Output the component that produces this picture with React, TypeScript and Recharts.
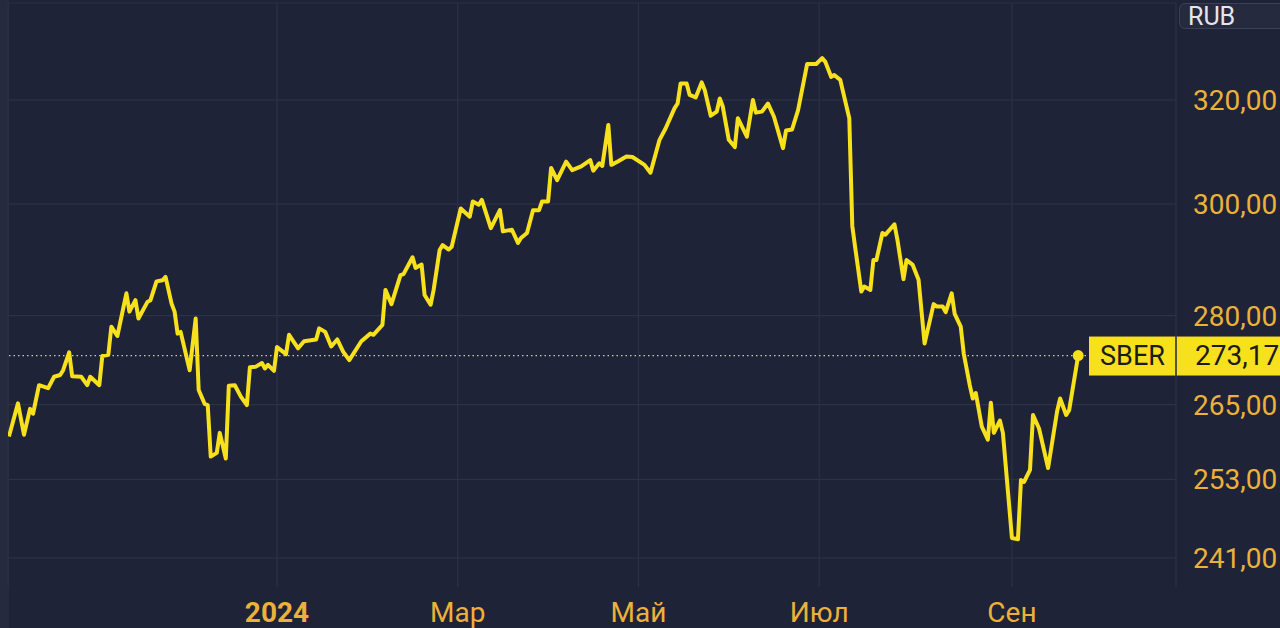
import React from 'react';
import { LineChart, Line, XAxis, YAxis, ReferenceLine } from 'recharts';

// SBER close, days counted from 2024-01-01
const dayOffsets = [
    -89, -86, -84, -82, -81, -79, -76, -74, -72, -71,
    -69, -68, -65, -63, -62, -59, -58, -56, -55, -53,
    -50, -49, -47, -46, -43, -42, -40, -38, -37, -35,
    -34, -33, -32, -29, -27, -26, -24, -23, -22, -20,
    -19, -17, -16, -14, -12, -10, -9, -7, -5, -4,
    -3, -1, 0, 3, 4, 7, 9, 13, 14, 16,
    18, 20, 22, 24, 28, 31, 32, 35, 36, 38,
    41, 42, 45, 46, 48, 49, 51, 52, 54, 55,
    57, 58, 61, 64, 65, 67, 68, 71, 74, 75,
    78, 80, 81, 83, 85, 87, 88, 90, 91, 93,
    96, 98, 101, 104, 105, 107, 108, 110, 111, 113,
    116, 118, 122, 124, 127, 129, 132, 133, 134, 136,
    137, 139, 141, 142, 144, 146, 147, 148, 150, 152,
    153, 156, 158, 159, 161, 163, 165, 168, 169, 171,
    173, 176, 179, 181, 182, 184, 185, 187, 190, 191,
    192, 194, 195, 197, 198, 199, 201, 202, 205, 206,
    208, 209, 211, 213, 215, 218, 219, 221, 222, 224,
    225, 227, 228, 230, 231, 232, 234, 236, 237, 238,
    240, 241, 244, 246, 247, 248, 250, 251, 253, 256,
    259, 260, 262, 263, 266,
];

const closes = [
    259.8, 265.2, 260.1, 264.3, 263.5, 268.2, 267.7, 269.6, 269.9, 270.7,
    273.7, 269.7, 269.6, 268.2, 269.6, 268.2, 273.1, 273.3, 278.1, 276.5,
    283.9, 280.7, 282.7, 279.5, 282.4, 282.7, 286.0, 286.2, 286.8, 282.1,
    280.7, 276.9, 277.2, 270.7, 279.5, 267.4, 265.1, 264.9, 256.6, 257.2,
    260.4, 256.3, 268.1, 268.2, 266.3, 264.9, 271.2, 271.3, 271.9, 271.0,
    271.6, 270.6, 274.6, 273.4, 276.7, 274.4, 275.6, 275.9, 277.8, 277.2,
    274.7, 275.9, 273.8, 272.4, 275.6, 276.9, 276.7, 278.4, 284.5, 282.0,
    287.1, 287.3, 290.3, 288.4, 289.0, 283.6, 281.9, 284.5, 291.6, 292.5,
    291.7, 292.2, 299.2, 297.7, 300.5, 299.9, 300.8, 295.6, 298.9, 295.0,
    295.3, 292.9, 293.8, 294.7, 298.9, 298.9, 300.5, 300.5, 306.8, 304.5,
    308.0, 306.4, 307.1, 308.3, 306.3, 307.7, 307.2, 315.1, 307.4, 308.0,
    309.0, 308.9, 307.4, 305.9, 312.2, 314.4, 318.4, 319.3, 323.3, 323.3,
    321.0, 320.5, 323.5, 322.0, 316.9, 317.7, 320.3, 318.7, 312.2, 310.8,
    316.4, 312.8, 320.0, 317.5, 317.7, 319.3, 316.7, 310.6, 314.0, 314.2,
    318.0, 327.2, 327.2, 328.4, 327.7, 324.6, 325.0, 324.0, 316.4, 296.0,
    291.9, 284.2, 285.1, 284.5, 289.8, 289.8, 294.7, 294.4, 296.3, 293.4,
    286.4, 289.8, 289.0, 286.3, 275.2, 282.0, 281.6, 281.6, 280.6, 283.9,
    280.3, 278.1, 273.5, 268.2, 266.0, 266.9, 261.4, 259.3, 265.3, 260.4,
    262.4, 260.4, 244.0, 243.8, 252.9, 252.6, 254.5, 263.3, 261.1, 254.8,
    263.9, 266.0, 263.3, 264.1, 273.17,
];

// month starts on the chart's session-based time axis
const monthTicks = [0, 60, 120, 180, 244];
const monthLabels = ['2024', 'Мар', 'Май', 'Июл', 'Сен'];
const priceTicks = [241, 253, 265, 280, 300, 320];
const ticker = 'SBER';
const currency = 'RUB';

const X_MIN = -89.31;
const X_MAX = 298.47;
const Y_MIN = 236.7;
const Y_MAX = 339.8;

const BG = '#1f2337';
const GRID = '#2c3147';
const LINE = '#f7e01c';
const LABEL = '#ebb13a';
const FONT = 'Roboto, "Noto Sans", sans-serif';

const data = dayOffsets.map((day, i) => ({ day, close: closes[i] }));
const last = data[data.length - 1];

const fmt = (v: number) => v.toFixed(2).replace('.', ',');

const MonthTick = (props: any) => {
    const { x, y, payload, index } = props;
    return (
        <text x={x} y={y} dy="0.71em" textAnchor="middle" fill={LABEL} fontSize={28}
            fontFamily={FONT} fontWeight={index === 0 ? 700 : 400}>
            {monthLabels[monthTicks.indexOf(payload.value)]}
        </text>
    );
};

const PriceTag = (props: any) => {
    const vb = props.viewBox || {};
    const right = vb.x + vb.width;
    const cy = vb.y;
    return (
        <g>
            <rect x={right - 87} y={cy - 19} width={87} height={39} fill={LINE} />
            <text x={right - 43.5} y={cy} dy="0.355em" textAnchor="middle" fill="#1b1b1b"
                fontSize={27} fontFamily={FONT}>{ticker}</text>
            <rect x={right} y={cy - 19} width={110} height={39} fill={LINE} />
            <line x1={right} x2={right} y1={cy - 19} y2={cy + 20} stroke="#3a3a2a" strokeWidth={1} />
            <text x={right + 19} y={cy} dy="0.355em" fill="#1b1b1b" fontSize={28}
                fontFamily={FONT}>{fmt(last.close)}</text>
        </g>
    );
};

export default function App() {
    return (
        <div style={{ position: 'fixed', left: 0, top: 0, width: 1280, height: 628, background: BG, overflow: 'hidden' }}>
            <div style={{ position: 'absolute', left: 0, top: 0, width: 9, height: 628, background: '#252a3e' }} />
            <LineChart width={1280} height={628} data={data} margin={{ top: 3, right: 0, bottom: 0, left: 8 }}>
                <XAxis
                    dataKey="day"
                    type="number"
                    domain={[X_MIN, X_MAX]}
                    allowDataOverflow
                    ticks={monthTicks}
                    tick={<MonthTick />}
                    tickLine={false}
                    axisLine={false}
                    tickMargin={9}
                    height={41}
                    interval={0}
                />
                <YAxis
                    orientation="right"
                    type="number"
                    scale="log"
                    domain={[Y_MIN, Y_MAX]}
                    allowDataOverflow
                    ticks={priceTicks}
                    tickFormatter={fmt}
                    tick={{ fill: LABEL, fontSize: 28, fontFamily: FONT }}
                    tickLine={false}
                    axisLine={{ stroke: GRID, strokeWidth: 1.2 }}
                    tickMargin={11}
                    width={104}
                    interval={0}
                />
                {priceTicks.map((t) => (
                    <ReferenceLine key={`h${t}`} y={t} stroke={GRID} strokeWidth={1.2} />
                ))}
                {monthTicks.map((t) => (
                    <ReferenceLine key={`v${t}`} x={t} stroke={GRID} strokeWidth={1.2} />
                ))}
                <ReferenceLine x={X_MIN} stroke={GRID} strokeWidth={1.2} />
                <ReferenceLine y={Y_MAX} stroke={GRID} strokeWidth={1.2} />
                <ReferenceLine
                    y={last.close}
                    stroke="#cfc9ad"
                    strokeWidth={1.2}
                    strokeDasharray="1.5 3"
                    label={<PriceTag />}
                />
                <Line
                    type="linear"
                    dataKey="close"
                    stroke={LINE}
                    strokeWidth={4}
                    strokeLinejoin="round"
                    isAnimationActive={false}
                    dot={(p: any) =>
                        p.index === data.length - 1
                            ? <circle key="end" cx={p.cx} cy={p.cy} r={5.5} fill={LINE} />
                            : <g key={p.index} />
                    }
                    activeDot={false}
                />
            </LineChart>
            <div style={{
                position: 'absolute', left: 1179, top: 3, width: 120, height: 26,
                border: '1px solid #3b4057', borderRadius: 6, background: '#252a3e',
                color: '#e6e6ea', fontFamily: FONT, fontSize: 25, lineHeight: '26px',
                paddingLeft: 8, boxSizing: 'border-box',
            }}>{currency}</div>
        </div>
    );
}
